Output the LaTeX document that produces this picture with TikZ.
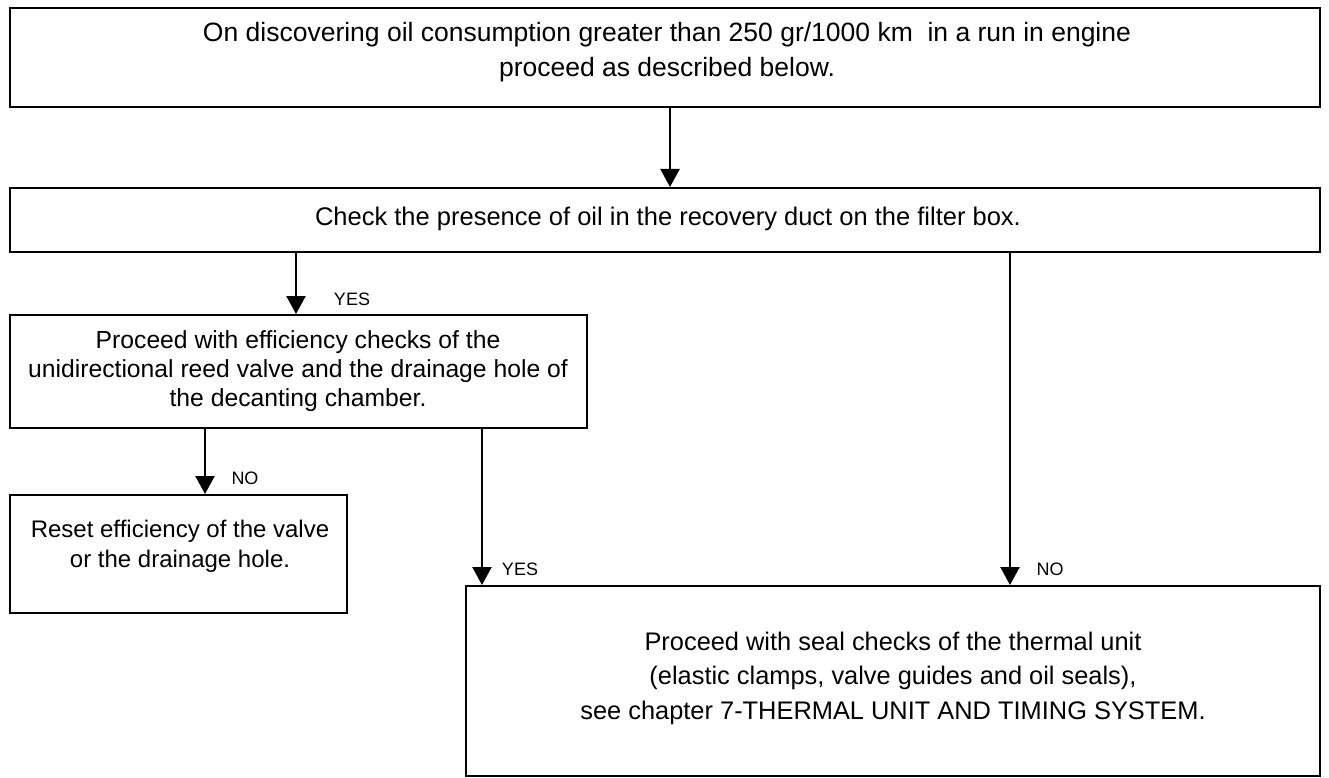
\documentclass[tikz,border=0pt]{standalone}
\usepackage{fontspec}
\setmainfont{Liberation Sans}
\usetikzlibrary{arrows.meta}
\begin{document}
\begin{tikzpicture}[x=1pt,y=-1pt,
  frame/.style={draw=black, line width=2.3pt, inner sep=0pt, anchor=north west},
  boxtext/.style 2 args={align=center, inner sep=0pt, font=\fontsize{#1}{#2}\selectfont},
  answer/.style={inner sep=0pt, font=\fontsize{18}{22}\selectfont},
  flow/.style={line width=2.3pt, -{Triangle[width=19pt,length=18pt]}}
]
\useasboundingbox (0,0) rectangle (1329,778);

% frames (top-left corner, width, height)
\node[frame, minimum width=1310pt, minimum height=99pt]  (b1) at (8.5,7) {};
\node[frame, minimum width=1310pt, minimum height=63.5pt] (b2) at (8.5,187) {};
\node[frame, minimum width=577pt,  minimum height=113pt] (b3) at (8.5,314) {};
\node[frame, minimum width=337pt,  minimum height=118pt] (b4) at (8.5,494) {};
\node[frame, minimum width=854pt,  minimum height=190pt] (b5) at (464.5,585) {};

% texts
\node[boxtext={26.5}{35}] (t1) at (667,52) {On discovering oil consumption greater than 250 gr/1000 km\ \ in a run in engine\\proceed as described below.};
\node[boxtext={25.5}{30}] (t2) at (668,219) {Check the presence of oil in the recovery duct on the filter box.};
\node[boxtext={24.7}{29}] (t3) at (298,371) {Proceed with efficiency checks of the\\unidirectional reed valve and the drainage hole of\\the decanting chamber.};
\node[boxtext={24}{30}] (t4) at (180,546) {Reset efficiency of the valve\\or the drainage hole.};
\node[boxtext={25.4}{34.5}] (t5) at (893,678) {Proceed with seal checks of the thermal unit\\(elastic clamps, valve guides and oil seals),\\see chapter 7-THERMAL UNIT AND TIMING SYSTEM.};

% connector columns
\coordinate (c0) at (670,0);
\coordinate (c1) at (296,0);
\coordinate (c2) at (205,0);
\coordinate (c3) at (482,0);
\coordinate (c4) at (1010,0);

\draw[flow] (b1.south -| c0) -- (b2.north -| c0);
\draw[flow] (b2.south -| c1) -- (b3.north -| c1);
\draw[flow] (b3.south -| c2) -- (b4.north -| c2);
\draw[flow] (b3.south -| c3) -- (b5.north -| c3);
\draw[flow] (b2.south -| c4) -- (b5.north -| c4);

% answer labels
\node[answer] (y1) at (352,299) {YES};
\node[answer] (n1) at (245,478) {NO};
\node[answer] (y2) at (520,569) {YES};
\node[answer] (n2) at (1050,569) {NO};
\end{tikzpicture}
\end{document}
